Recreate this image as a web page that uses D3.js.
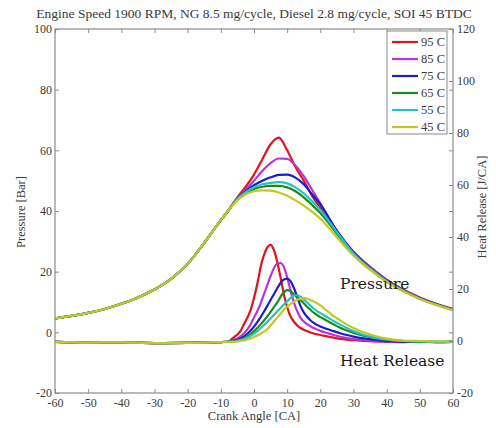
<!DOCTYPE html>
<html><head><meta charset="utf-8">
<script src="https://cdn.jsdelivr.net/npm/d3@7"></script>
<style>
body{margin:0;background:#fff;}
</style></head>
<body><svg id="c" width="496" height="428"></svg>
<script>
// ---------- data ----------
const titleText = "Engine Speed 1900 RPM, NG 8.5 mg/cycle, Diesel 2.8 mg/cycle, SOI 45 BTDC";
const legendLabels = ["95 C","85 C","75 C","65 C","55 C","45 C"];
const seriesColors = ["#e0141c","#b835d6","#1c1ccf","#1e8a1e","#22c4c4","#c6c623"];

const xTicks = [-60,-50,-40,-30,-20,-10,0,10,20,30,40,50,60];
const pTicks = [-20,0,20,40,60,80,100];
const hrTicks = [-20,0,20,40,60,80,100,120];

// Pressure: shared compression part then per-series part
const caPressComp = [-60,-55,-50,-45,-40,-35,-30,-25,-20,-15,-10,-7.5];
const pressComp   = [4.6,5.4,6.4,7.7,9.4,11.5,14.1,17.6,22.6,29.5,37,40.5];
const caPressTail = [-5,-2.5,0,2.5,5,7.5,10,12.5,15,17.5,20,25,30,35,40,45,50,55,60];
const press95 = [44.5,48,52,57,62,64.2,60,54.5,50,45,41,33.2,26.6,21.6,17.4,14.1,11.5,9.4,7.7];
const press85 = [44.3,47,50,53.2,55.8,57.3,57.2,55,51.5,47,42.5,33.3,26.4,21.4,17.2,13.9,11.3,9.2,7.5];
const press75 = [44.2,46.5,48.5,50,51.1,51.9,52,51,48.8,45.5,42.2,33.5,26.3,21.2,17.1,13.8,11.2,9.2,7.5];
const press65 = [44,46,47.3,48,48.3,48.3,47.8,46.5,44.5,42,39.3,32.5,25.8,20.9,16.9,13.7,11.1,9.1,7.4];
const press55 = [44,46.2,47.8,48.8,49.3,49.5,49.1,47.8,45.8,43.2,40.3,33,26,21,16.9,13.7,11.1,9.1,7.4];
const press45 = [43.5,45.5,46.5,46.8,46.7,46.1,45,43.5,41.8,39.7,37.5,31.3,25.3,20.6,16.6,13.5,11,9,7.3];

// Heat release: shared pre-combustion part then per-series part
const caHrBase = [-60,-50,-40,-30,-20,-15,-10,-8];
const hrBase   = [-0.3,-0.6,-0.5,-0.8,-0.7,-0.6,-0.4,-0.3];
const caHrTail = [-6,-5,-4,-3,-2,-1,0,1,2,3,4,5,6,7,8,9,10,11,12,13,14,15,16,17,18,19,20,22,24,26,28,30,33,36,40,45,50,55,60];
const hr95 = [1.5,2.5,4,6.5,9,12,16.5,22,28.5,33,36,37,35,30.5,24.5,18,13,9.5,7.5,6,5,4.3,3.8,3.3,2.9,2.6,2.3,1.8,1.3,0.8,0.5,0.3,0,-0.2,-0.3,-0.4,-0.3,-0.4,-0.3];
const hr85 = [0.5,1,1.8,3,4.5,6.5,9,11.5,14.5,18,21.5,25,28,29.8,30,28.5,24.5,19.5,15,11.5,9,7.5,6.5,5.7,5,4.4,3.9,3.1,2.3,1.6,1.1,0.7,0.3,0,-0.2,-0.3,-0.4,-0.3,-0.3];
const hr75 = [0.2,0.5,1,1.8,2.8,4,5.5,7.3,9.2,11.3,13.5,15.8,18,20.3,22.3,23.7,24,23,20.5,17,13.5,11,9.3,8,7,6.2,5.6,4.6,3.8,3,2.3,1.7,1,0.5,0,-0.3,-0.3,-0.4,-0.3];
const hr65 = [0,0.3,0.6,1.1,1.8,2.7,3.8,5,6.4,7.9,9.5,11.2,13,14.8,17,18.8,19.6,19.2,18,16.8,15.7,14.5,13.2,12,10.9,10,9.2,7.8,6.4,5.1,4,3.1,2,1.2,0.5,0,-0.3,-0.3,-0.3];
const hr55 = [-0.2,0.1,0.4,0.8,1.3,2,2.8,3.8,4.9,6.1,7.4,8.7,10,11.4,12.7,14,15.3,16.5,17.5,17.6,17,16,14.8,13.6,12.5,11.5,10.7,9.2,7.7,6.3,5,3.8,2.4,1.4,0.5,0,-0.2,-0.3,-0.3];
const hr45 = [-0.3,-0.2,0.1,0.3,0.6,1,1.5,2.1,2.8,3.6,4.5,6,7.5,9,10.5,12,13.2,14.2,15,15.8,16.3,16.5,16.3,15.8,15.2,14.5,13.7,11.6,9.6,7.9,6.3,5,3.4,2.1,0.9,0.2,0,-0.2,-0.2];

const pressTails = [press95,press85,press75,press65,press55,press45];
const hrTails = [hr95,hr85,hr75,hr65,hr55,hr45];

// ---------- layout ----------
const svg = d3.select("#c");
const L = 55, R = 453, T = 29, B = 393;
const x = d3.scaleLinear().domain([-60,60]).range([L,R]);
const yP = d3.scaleLinear().domain([-20,100]).range([B,T]);
const yH = d3.scaleLinear().domain([-20,120]).range([B,T]);
const axisCol = "#8a8a8a", textCol = "#3a3a3a";
const SERIF = "Liberation Serif, Times New Roman, serif";

// title
svg.append("text").attr("x",254).attr("y",18).attr("text-anchor","middle")
  .style("font-family",SERIF).attr("font-size",13.5).attr("fill",textCol).text(titleText);

// clip
svg.append("clipPath").attr("id","clip").append("rect")
  .attr("x",L).attr("y",T).attr("width",R-L).attr("height",B-T);

const pts = (cx, cy) => cx.map((v,i)=>[v,cy[i]]);
const lineP = d3.line().x(d=>x(d[0])).y(d=>yP(d[1])).curve(d3.curveMonotoneX);
const lineH = d3.line().x(d=>x(d[0])).y(d=>yH(d[1])).curve(d3.curveMonotoneX);

const gLines = svg.append("g").attr("clip-path","url(#clip)");
pressTails.forEach((tail,i)=>{
  const data = pts(caPressComp.concat(caPressTail), pressComp.concat(tail));
  gLines.append("path").attr("d",lineP(data)).attr("fill","none")
    .attr("stroke",seriesColors[i]).attr("stroke-width",2.2).attr("stroke-linejoin","round");
});
hrTails.forEach((tail,i)=>{
  const data = pts(caHrBase.concat(caHrTail), hrBase.concat(tail));
  gLines.append("path").attr("d",lineH(data)).attr("fill","none")
    .attr("stroke",seriesColors[i]).attr("stroke-width",2.2).attr("stroke-linejoin","round");
});

// frame
svg.append("rect").attr("x",L).attr("y",T).attr("width",R-L).attr("height",B-T)
  .attr("fill","none").attr("stroke",axisCol).attr("stroke-width",1.2);

// axes
const fmt = d => String(d);
function styleAxis(g){
  g.select(".domain").remove();
  g.selectAll(".tick line").attr("stroke",axisCol);
  g.selectAll(".tick text").attr("fill",textCol).attr("font-size",12)
    .style("font-family",SERIF);
}
const ax = svg.append("g").attr("transform",`translate(0,${B})`)
  .call(d3.axisBottom(x).tickValues(xTicks).tickFormat(fmt).tickSizeInner(-4).tickSizeOuter(0).tickPadding(5));
styleAxis(ax);
const axTop = svg.append("g").attr("transform",`translate(0,${T})`)
  .call(d3.axisTop(x).tickValues(xTicks).tickSizeInner(-4).tickSizeOuter(0).tickFormat(""));
styleAxis(axTop);
const ayL = svg.append("g").attr("transform",`translate(${L},0)`)
  .call(d3.axisLeft(yP).tickValues(pTicks).tickFormat(fmt).tickSizeInner(-4).tickSizeOuter(0).tickPadding(3));
styleAxis(ayL);
const ayLm = svg.append("g").attr("transform",`translate(${R},0)`)
  .call(d3.axisRight(yP).tickValues(pTicks).tickSizeInner(-4).tickSizeOuter(0).tickFormat(""));
styleAxis(ayLm);
const ayR = svg.append("g").attr("transform",`translate(${R},0)`)
  .call(d3.axisRight(yH).tickValues(hrTicks).tickFormat(fmt).tickSizeInner(-4).tickSizeOuter(0).tickPadding(4));
styleAxis(ayR);

// axis titles
svg.append("text").attr("x",254).attr("y",420).attr("text-anchor","middle")
  .style("font-family",SERIF).attr("font-size",12.5).attr("fill",textCol).text("Crank Angle [CA]");
svg.append("text").attr("transform","translate(25,212) rotate(-90)").attr("text-anchor","middle")
  .style("font-family",SERIF).attr("font-size",12.5).attr("fill",textCol).text("Pressure [Bar]");
svg.append("text").attr("transform","translate(486,207) rotate(-90)").attr("text-anchor","middle")
  .style("font-family",SERIF).attr("font-size",12.5).attr("fill",textCol).text("Heat Release [J/CA]");

// annotations
svg.append("text").attr("x",340).attr("y",289).attr("font-size",15.5)
  .style("font-family","DejaVu Serif, serif").attr("fill","#1a1a1a").text("Pressure");
svg.append("text").attr("x",340).attr("y",366).attr("font-size",15.5)
  .style("font-family","DejaVu Serif, serif").attr("fill","#1a1a1a").text("Heat Release");

// legend
const lg = svg.append("g");
lg.append("rect").attr("x",387).attr("y",31).attr("width",60).attr("height",103)
  .attr("fill","#fff").attr("stroke",axisCol).attr("stroke-width",1);
legendLabels.forEach((lab,i)=>{
  const yy = 42 + i*17;
  lg.append("line").attr("x1",392).attr("x2",418).attr("y1",yy).attr("y2",yy)
    .attr("stroke",seriesColors[i]).attr("stroke-width",2.2);
  lg.append("text").attr("x",421).attr("y",yy+4).attr("font-size",12.5)
    .style("font-family",SERIF).attr("fill",textCol).text(lab);
});
</script></body></html>
